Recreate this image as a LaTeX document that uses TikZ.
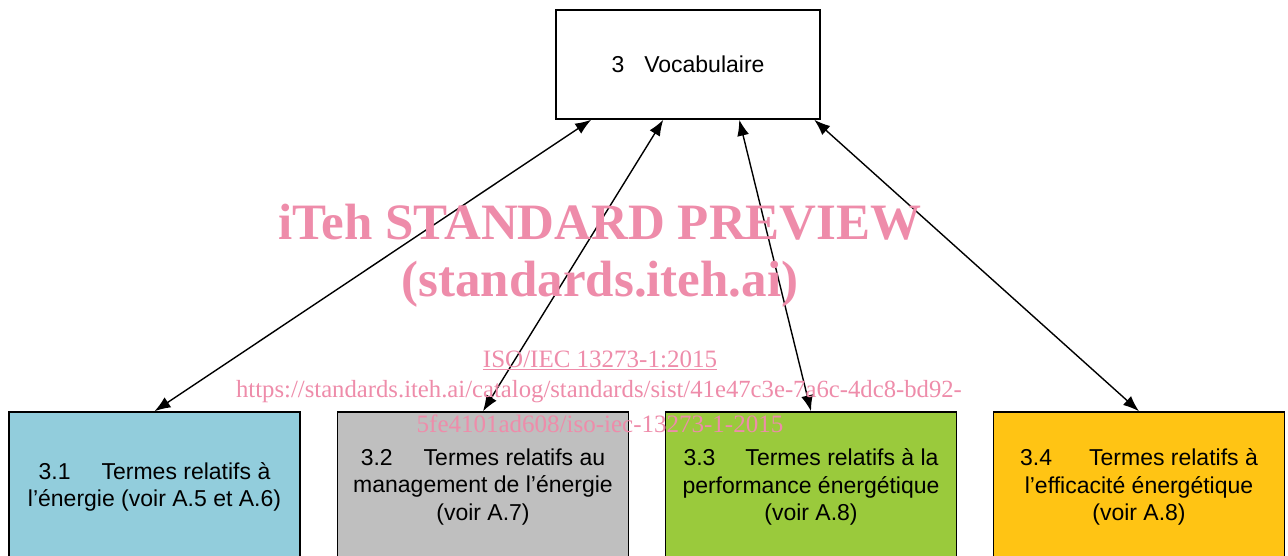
\documentclass[tikz,border=0pt]{standalone}
\usepackage{fontspec}
\setmainfont{Liberation Sans}
\newfontfamily\wmfont{Liberation Serif}
\usetikzlibrary{arrows.meta,calc}

\definecolor{boxblue}{RGB}{146,205,220}
\definecolor{boxgrey}{RGB}{191,191,191}
\definecolor{boxgreen}{RGB}{154,202,60}
\definecolor{boxorange}{RGB}{255,196,20}
\definecolor{wmpink}{RGB}{238,140,170}

\begin{document}
\begin{tikzpicture}[x=1pt,y=-1pt,
    box/.style={draw,line width=1.5pt,rectangle,align=center,inner sep=0pt,
      font=\fontsize{23}{27.5}\selectfont},
    termbox/.style={box,minimum width=291pt,minimum height=150pt},
    link/.style={line width=1.4pt,{Latex[length=16pt,width=12pt]}-{Latex[length=16pt,width=12pt]}}]

  \useasboundingbox (0,0) rectangle (1288,556);
  \clip (0,0) rectangle (1288,556);

  \node[box,minimum width=264pt,minimum height=109pt] (3) at (688,64.5) {3\hspace{20pt}Vocabulaire};

  \begin{scope}[every node/.style={termbox}]
    \node[fill=boxblue]   (31) at (154.5,487) {3.1\hspace{31pt}Termes relatifs à\\l’énergie (voir A.5 et A.6)};
    \node[fill=boxgrey]   (32) at (483,487)   {3.2\hspace{31pt}Termes relatifs au\\management de l’énergie\\(voir A.7)};
    \node[fill=boxgreen]  (33) at (811,487)   {3.3\hspace{30pt}Termes relatifs à la\\performance énergétique\\(voir A.8)};
    \node[fill=boxorange] (34) at (1139,487)  {3.4\hspace{37pt}Termes relatifs à\\l’efficacité énergétique\\(voir A.8)};
  \end{scope}

  \draw[link] ($(3.south west)+(36,0)$)  -- (31.north);
  \draw[link] ($(3.south west)+(108,0)$) -- (32.north);
  \draw[link] ($(3.south west)+(184,0)$) -- (33.north);
  \draw[link] ($(3.south west)+(259,0)$) -- (34.north);

  % watermark
  \begin{scope}[every node/.style={text=wmpink,inner sep=0pt}]
    \node[font=\wmfont\bfseries\fontsize{51}{60}\selectfont] (wm1) at (600,222) {iTeh STANDARD PREVIEW};
    \node[font=\wmfont\bfseries\fontsize{51}{60}\selectfont] (wm2) at (600,284) {(standards.iteh.ai)};
    \node[font=\wmfont\fontsize{25}{30}\selectfont] (wm3) at (600,360) {\underline{ISO/IEC 13273-1:2015}};
    \node[font=\wmfont\fontsize{24.7}{30}\selectfont] (wm4) at (599,392) {https://standards.iteh.ai/catalog/standards/sist/41e47c3e-7a6c-4dc8-bd92-};
    \node[font=\wmfont\fontsize{25}{30}\selectfont] (wm5) at (600,424) {5fe4101ad608/iso-iec-13273-1-2015};
  \end{scope}

\end{tikzpicture}
\end{document}
